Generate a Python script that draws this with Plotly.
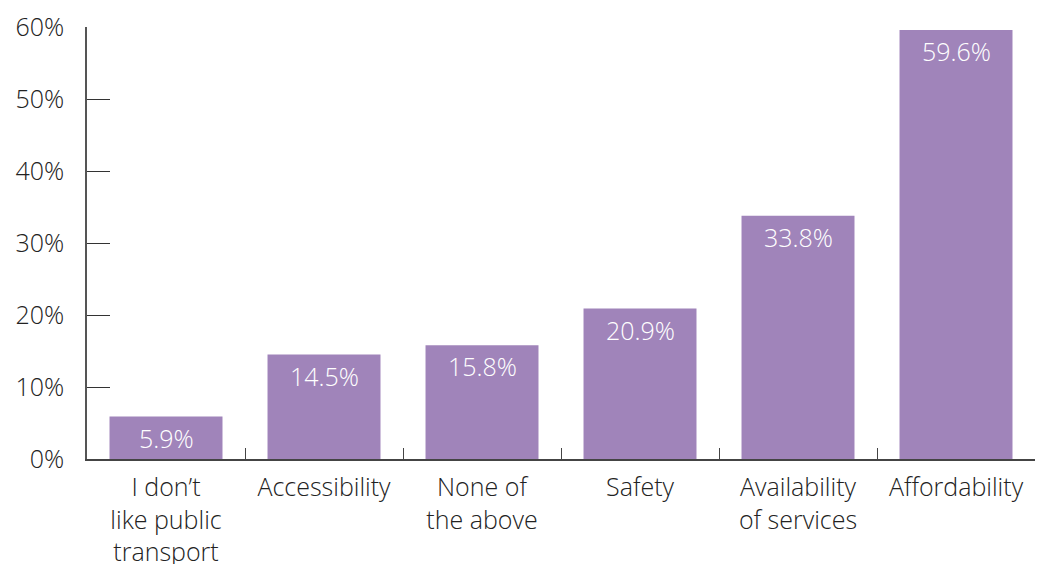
import plotly.graph_objects as go

categories = ["I don’t<br>like public<br>transport", "Accessibility", "None of<br>the above",
              "Safety", "Availability<br>of services", "Affordability"]
values = [5.9, 14.5, 15.8, 20.9, 33.8, 59.6]
value_labels = ["5.9%", "14.5%", "15.8%", "20.9%", "33.8%", "59.6%"]
y_ticks = [0, 10, 20, 30, 40, 50, 60]
y_tick_labels = ["0%", "10%", "20%", "30%", "40%", "50%", "60%"]

FONT = "Open Sans"
FS = 25
fig = go.Figure(go.Bar(x=categories, y=values, marker_color="#A084BA",
                       marker_line_width=0, hoverinfo="skip"))

for c, v, t in zip(categories, values, value_labels):
    fig.add_annotation(x=c, y=v, text=t, showarrow=False, yanchor="top", yshift=-2,
                       font=dict(family=FONT, size=FS, color="white", weight=300))

fig.update_layout(
    width=1037, height=564, margin=dict(l=87, r=2, t=27, b=105),
    plot_bgcolor="white", paper_bgcolor="white", bargap=0.285,
    showlegend=False, font=dict(family=FONT, size=FS, color="#222", weight=300),
)
fig.update_yaxes(range=[0, 60], tickvals=y_ticks, ticktext=y_tick_labels, automargin=False,
                 showgrid=False, zeroline=False, showline=True, linecolor="#555",
                 linewidth=1.5, ticks="inside", ticklen=23, tickcolor="#333",
                 ticklabelstandoff=16, tickfont=dict(family=FONT, size=FS, color="#222", weight=300))
fig.update_xaxes(showgrid=False, showline=True, linecolor="#444", linewidth=2, automargin=False,
                 ticks="inside", ticklen=11, tickcolor="#444", tickson="boundaries",
                 ticklabelstandoff=5, tickfont=dict(family=FONT, size=FS, color="#222", weight=300))

fig.write_html("out.html", config={"displayModeBar": False},
               post_script="document.body.style.margin='0';")
